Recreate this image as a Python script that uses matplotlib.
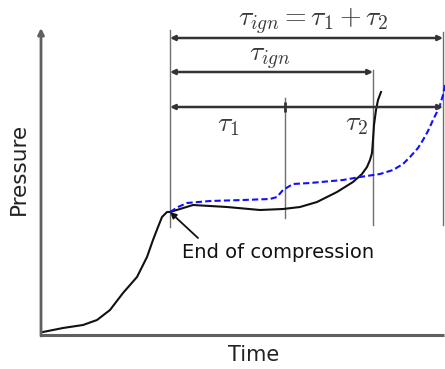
import matplotlib
matplotlib.use("Agg")
import matplotlib.pyplot as plt

plt.rcParams["mathtext.fontset"] = "cm"

# Schematic data (time, pressure) in arbitrary units
time_black = [43, 63, 83, 97, 110, 123, 137, 147, 153, 158, 162, 167, 170, 180, 193, 227, 260, 283, 300, 317,
              337, 353, 362, 367, 370, 372, 373, 374, 376, 378, 381]
pres_black = [37, 41, 44, 49, 59, 76, 92, 112, 129, 142, 152, 157, 157, 160, 164, 162, 159, 160, 162, 167,
              177, 187, 195, 202, 209, 216, 229, 244, 259, 269, 277]

time_blue = [170, 178, 187, 210, 243, 270, 277, 283, 293, 310, 343, 360, 380, 393, 403, 410, 418, 423, 428,
             433, 437, 440, 443, 445]
pres_blue = [157, 162, 166, 168, 169, 170, 172, 179, 185, 186, 189, 192, 195, 199, 205, 212, 221, 229, 238,
             249, 257, 264, 274, 284]

t_eoc = 170    # end of compression
t_1 = 285      # end of tau_1
t_ign_a = 373  # ignition (black)
t_ign_b = 443  # ignition (blue)

fig = plt.figure(figsize=(4.45, 3.69), dpi=100)
ax = fig.add_axes([0, 0, 1, 1])
ax.set_xlim(0, 445)
ax.set_ylim(0, 369)
ax.axis("off")

axis_col = "#606060"
# axes
ax.annotate("", xy=(41, 341), xytext=(41, 33),
            arrowprops=dict(arrowstyle="-|>", color=axis_col, lw=2, mutation_scale=9, shrinkA=0, shrinkB=0))
ax.plot([41, 444], [34, 34], color=axis_col, lw=2.2, solid_capstyle="butt")

ax.text(19, 200, "Pressure", rotation=90, ha="center", va="center", fontsize=15.5, color="#222222")
ax.text(254, 14, "Time", ha="center", va="center", fontsize=15, color="#222222")

# vertical guide lines
vcol = "#707070"
ax.plot([t_eoc, t_eoc], [142, 339], color=vcol, lw=1)
ax.plot([t_1, t_1], [151, 271], color=vcol, lw=1)
ax.plot([t_ign_a, t_ign_a], [144, 299], color=vcol, lw=1)
ax.plot([t_ign_b, t_ign_b], [144, 337], color=vcol, lw=1)

# curves
ax.plot(time_black, pres_black, color="#111111", lw=1.5)
ax.plot(time_blue, pres_blue, color="#1010ff", lw=1.5, dashes=(3, 1.5))

# dimension arrows
acol = "#333333"
ap = dict(arrowstyle="<|-|>", color=acol, lw=1.8, mutation_scale=7, shrinkA=0, shrinkB=0)
ax.annotate("", xy=(t_eoc, 331), xytext=(t_ign_b, 331), arrowprops=ap)
ax.annotate("", xy=(t_eoc, 297), xytext=(t_ign_a, 297), arrowprops=ap)
ax.annotate("", xy=(t_eoc, 262), xytext=(t_ign_b, 262), arrowprops=ap)
ax.plot([t_1], [262], marker="|", color=acol, ms=7, mew=2)

tcol = "#3a3a3a"
ax.text(313, 348, r"$\tau_{ign} = \tau_1 + \tau_2$", ha="center", va="center", fontsize=20, color=tcol)
ax.text(270, 311, r"$\tau_{ign}$", ha="center", va="center", fontsize=20, color=tcol)
ax.text(228, 245, r"$\tau_1$", ha="center", va="center", fontsize=20, color=tcol)
ax.text(356, 246, r"$\tau_2$", ha="center", va="center", fontsize=20, color=tcol)

# annotation
ax.annotate("", xy=(t_eoc, 157), xytext=(198, 131),
            arrowprops=dict(arrowstyle="-|>", color="#111111", lw=1.3, mutation_scale=9, shrinkA=0, shrinkB=0))
ax.text(182, 116, "End of compression", ha="left", va="center", fontsize=14, color="#111111")

fig.savefig("out.png", dpi=100)
